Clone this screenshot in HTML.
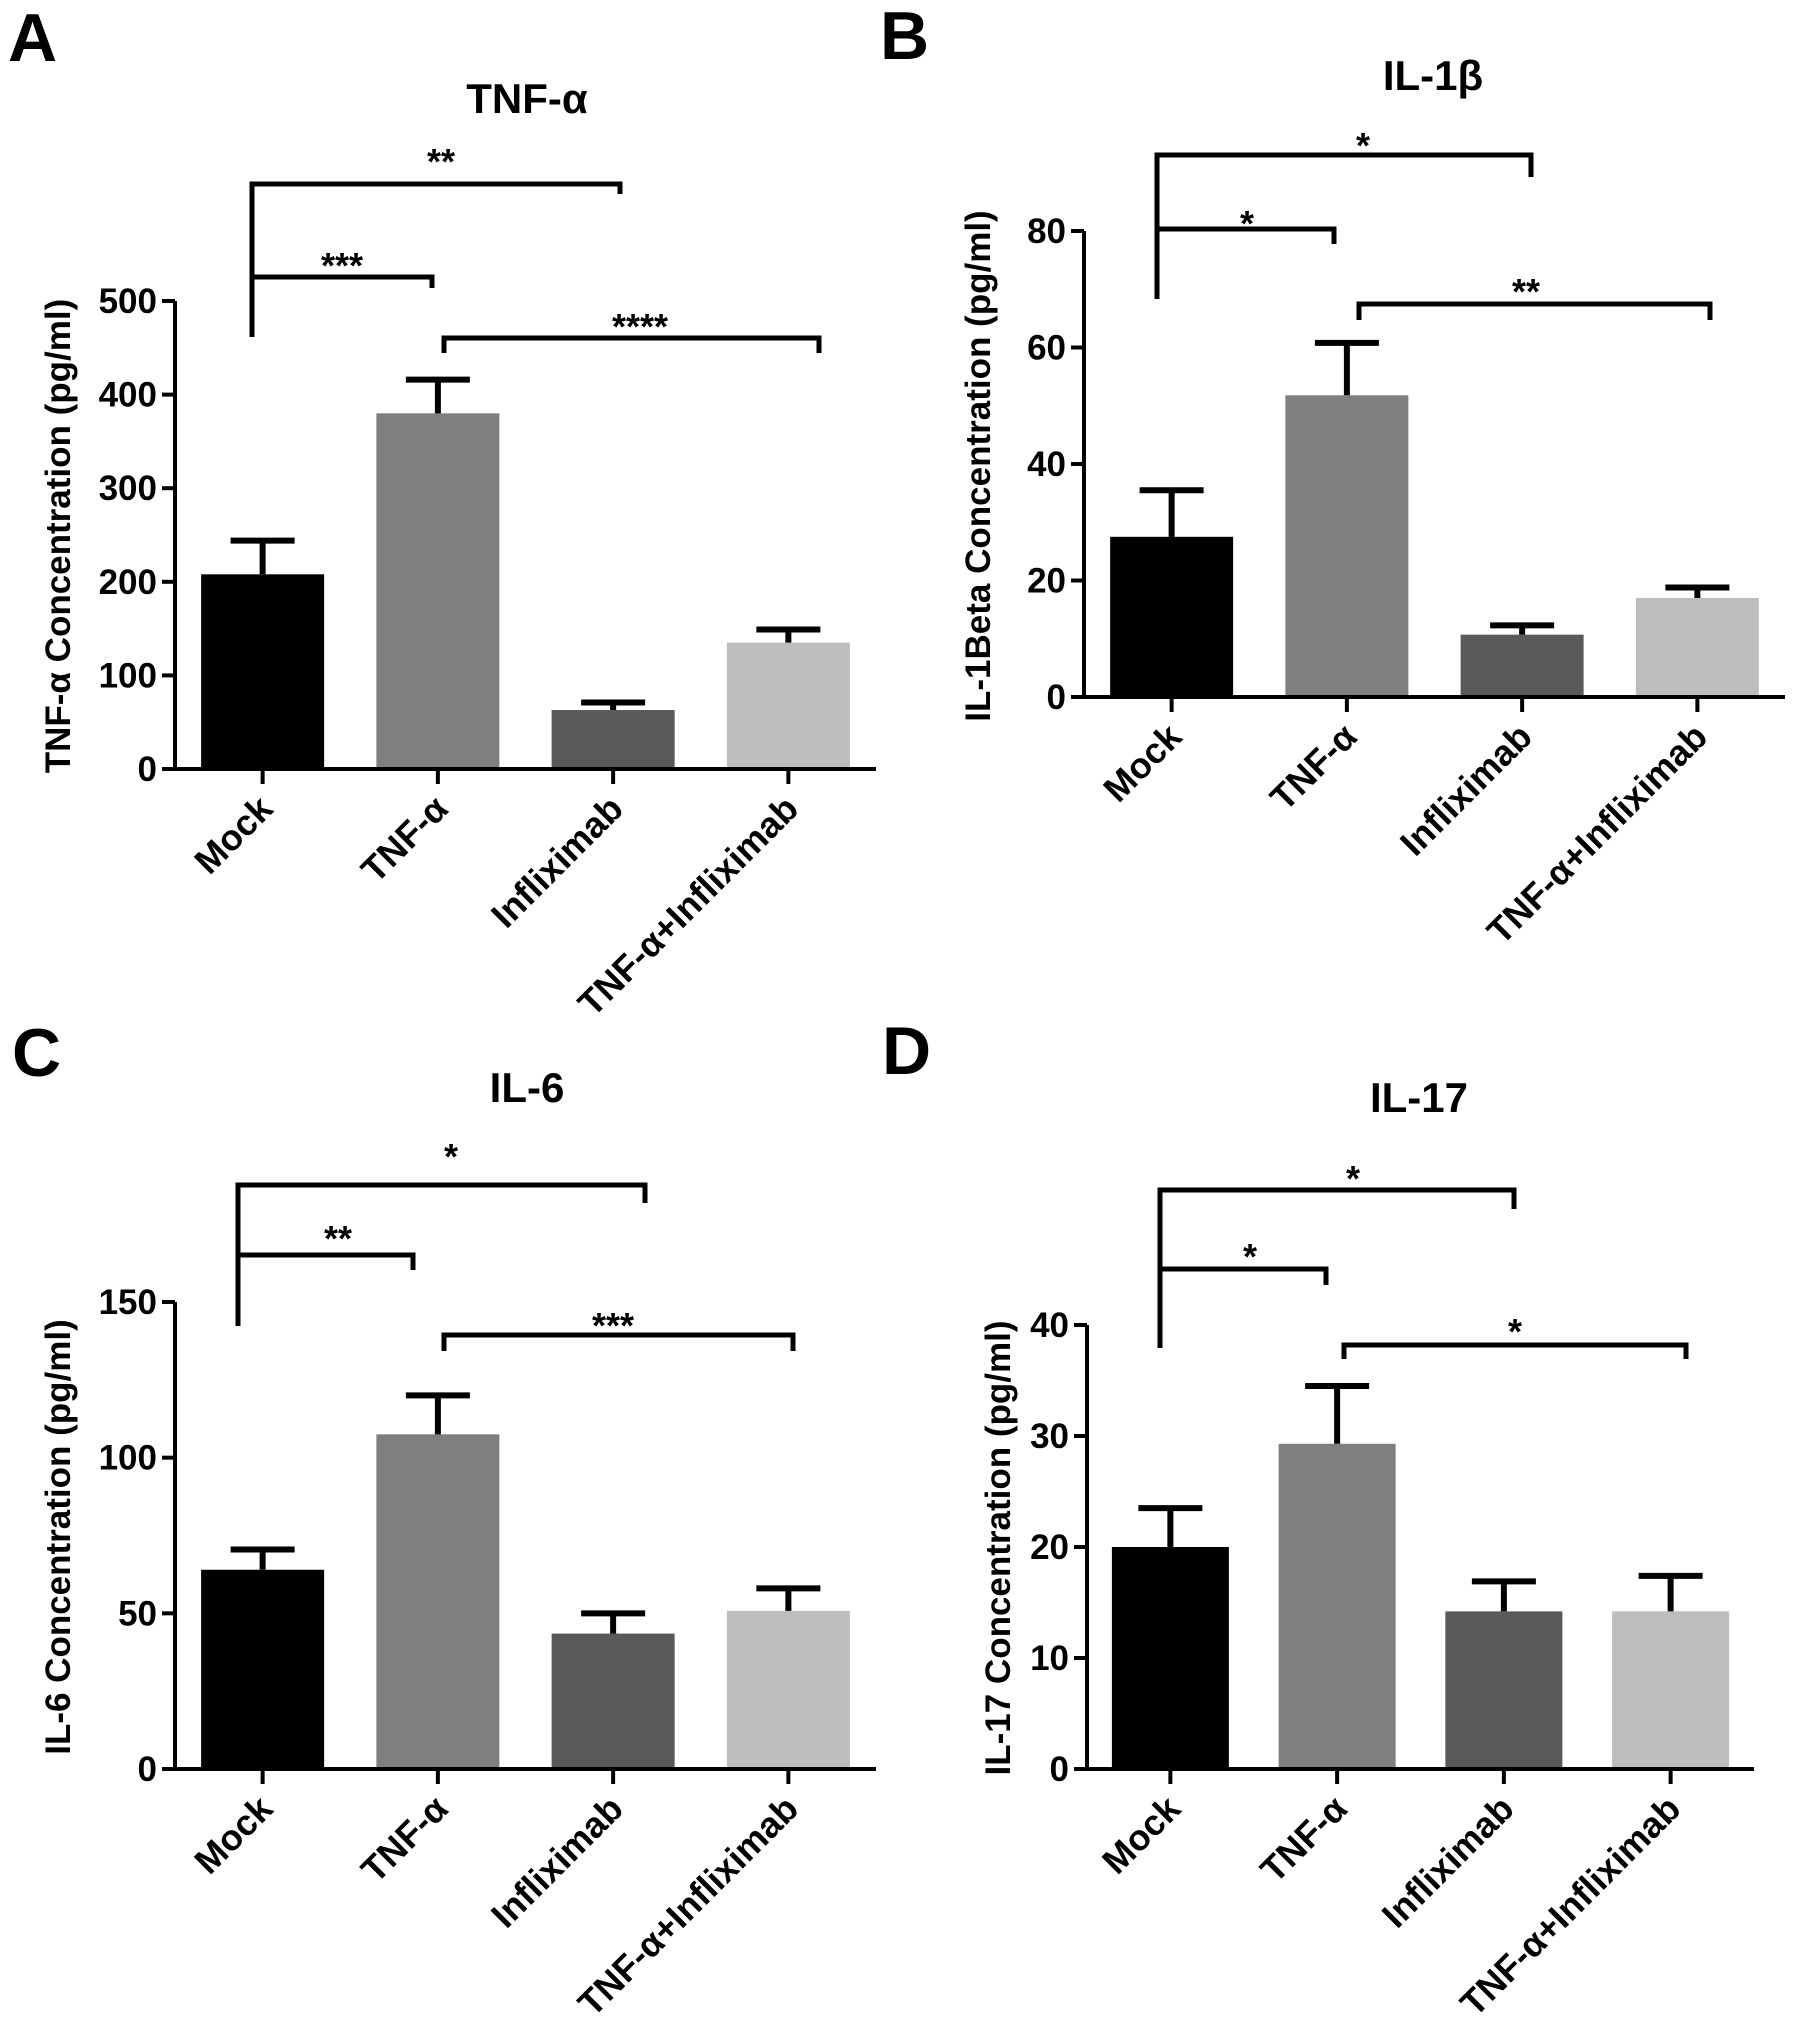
<!DOCTYPE html>
<html><head><meta charset="utf-8"><style>
html,body{margin:0;padding:0;background:#fff;}
svg{display:block;font-family:"Liberation Sans",Arial,sans-serif;font-weight:bold;}
</style></head><body>
<svg id="fig" width="1796" height="2030" viewBox="0 0 1796 2030" xmlns="http://www.w3.org/2000/svg"></svg>
<script>
const categories = ["Mock", "TNF-α", "Infliximab", "TNF-α+Infliximab"];
const barColors = ["#000000", "#7f7f7f", "#595959", "#bdbdbd"];
const tnfMeans = [208, 380, 63, 135];
const tnfErrs = [36, 36, 8, 14];
const tnfTicks = [0, 100, 200, 300, 400, 500];
const il1Means = [27.5, 51.8, 10.7, 17];
const il1Errs = [8, 9, 1.6, 1.8];
const il1Ticks = [0, 20, 40, 60, 80];
const il6Means = [64, 107.5, 43.5, 50.8];
const il6Errs = [6.5, 12.5, 6.5, 7.2];
const il6Ticks = [0, 50, 100, 150];
const il17Means = [20, 29.3, 14.2, 14.2];
const il17Errs = [3.5, 5.2, 2.7, 3.2];
const il17Ticks = [0, 10, 20, 30, 40];

const NS = "http://www.w3.org/2000/svg";
const svg = document.getElementById("fig");
function mk(tag, attrs, parent, text) {
  const e = document.createElementNS(NS, tag);
  for (const k in attrs) e.setAttribute(k, attrs[k]);
  if (text !== undefined) e.textContent = text;
  (parent || svg).appendChild(e);
  return e;
}

function panel(cfg) {
  const g = mk("g", {});
  
  
  const yMax = cfg.ticks[cfg.ticks.length - 1];
  const y = v => cfg.y0 - (v / yMax) * (cfg.y0 - cfg.yTop);
  const step = (cfg.xEnd - cfg.ax) / 4;
  const x = i => cfg.ax + step * (i + 0.5);

  const lbl = mk("text", {x: cfg.lx, y: cfg.ly, "font-size": 68, fill: "#000"}, g, cfg.letter);
  
  
  const t = mk("text", {x: cfg.tx, y: cfg.ty, "font-size": 42, "text-anchor": "middle"}, g, cfg.title);
  
  

  for (let i = 0; i < 4; i++) {
    const b = mk("rect", {x: x(i) - cfg.bw / 2, y: y(cfg.means[i]), width: cfg.bw, height: cfg.y0 - y(cfg.means[i]), fill: barColors[i]}, g);
    
    
    const top = y(cfg.means[i] + cfg.errs[i]);
    const eb = mk("path", {d: `M${x(i)},${y(cfg.means[i])}V${top}M${x(i)-32},${top}H${x(i)+32}`, stroke: "#000", "stroke-width": 6, fill: "none"}, g);
    
    
  }
  const axes = mk("path", {d: `M${cfg.ax},${cfg.yTop}V${cfg.y0}H${cfg.xEnd}`, stroke: "#000", "stroke-width": 4, fill: "none"}, g);
  
  
  cfg.ticks.forEach(v => {
    const tk = mk("line", {x1: cfg.ax - 13, x2: cfg.ax, y1: y(v), y2: y(v), stroke: "#000", "stroke-width": 4}, g);
    
    
    const tl = mk("text", {x: cfg.ax - 18, y: y(v) + 12, "font-size": 35, "text-anchor": "end"}, g, String(v));
    
    
  });
  for (let i = 0; i < 4; i++) {
    const tk = mk("line", {x1: x(i), x2: x(i), y1: cfg.y0, y2: cfg.y0 + 15, stroke: "#000", "stroke-width": 4}, g);
    
    
    const px = x(i) + 12, py = cfg.y0 + 42;
    const xl = mk("text", {x: px, y: py, "font-size": 36, "text-anchor": "end", transform: `rotate(-45 ${px} ${py})`}, g, categories[i]);
    
    
  }
  const yl = mk("text", {x: 0, y: 0, "font-size": 35, "text-anchor": "middle", transform: `translate(${cfg.ylx},${cfg.yly}) rotate(-90)`}, g, cfg.ylabel);
  
  
  cfg.brackets.forEach(bk => {
    const [x1, x2, yy, l1, l2, sx, sy, s] = bk;
    const p = mk("path", {d: `M${x1},${l1}V${yy}H${x2}V${l2}`, stroke: "#000", "stroke-width": 5, fill: "none"}, g);
    
    
    const st = mk("text", {x: sx, y: sy + 16, "font-size": 36, "text-anchor": "middle"}, g, s);
    
    
  });
}

panel({id: "tnf", letter: "A", lx: 8, ly: 61, title: "TNF-α", tx: 527, ty: 113, ax: 175, xEnd: 876, y0: 769, yTop: 301, bw: 123,
  means: tnfMeans, errs: tnfErrs, ticks: tnfTicks, ylabel: "TNF-α Concentration (pg/ml)", ylx: 70, yly: 536,
  brackets: [[252, 620, 184, 337, 194, 441, 158, "**"], [252, 432, 277, 337, 288, 342, 262, "***"], [444, 819, 338, 353, 353, 640, 323, "****"]]});
panel({id: "il1b", letter: "B", lx: 880, ly: 59, title: "IL-1β", tx: 1433, ty: 90, ax: 1084, xEnd: 1785, y0: 697, yTop: 231, bw: 123,
  means: il1Means, errs: il1Errs, ticks: il1Ticks, ylabel: "IL-1Beta Concentration (pg/ml)", ylx: 990, yly: 466,
  brackets: [[1157, 1531, 155, 299, 177, 1363, 142, "*"], [1157, 1334, 229, 299, 244, 1247, 220, "*"], [1359, 1710, 304, 320, 320, 1526, 288, "**"]]});
panel({id: "il6", letter: "C", lx: 12, ly: 1076, title: "IL-6", tx: 527, ty: 1102, ax: 175, xEnd: 876, y0: 1769, yTop: 1302, bw: 123,
  means: il6Means, errs: il6Errs, ticks: il6Ticks, ylabel: "IL-6 Concentration (pg/ml)", ylx: 70, yly: 1537,
  brackets: [[238, 645, 1185, 1326, 1203, 451, 1153, "*"], [238, 413, 1255, 1326, 1270, 338, 1235, "**"], [444, 793, 1335, 1351, 1351, 613, 1322, "***"]]});
panel({id: "il17", letter: "D", lx: 882, ly: 1074, title: "IL-17", tx: 1419, ty: 1112, ax: 1087, xEnd: 1754, y0: 1769, yTop: 1325, bw: 117,
  means: il17Means, errs: il17Errs, ticks: il17Ticks, ylabel: "IL-17 Concentration (pg/ml)", ylx: 1010, yly: 1548,
  brackets: [[1160, 1514, 1190, 1348, 1209, 1353, 1175, "*"], [1160, 1326, 1269, 1348, 1285, 1250, 1253, "*"], [1344, 1686, 1345, 1359, 1359, 1515, 1328, "*"]]});
</script>
</body></html>
